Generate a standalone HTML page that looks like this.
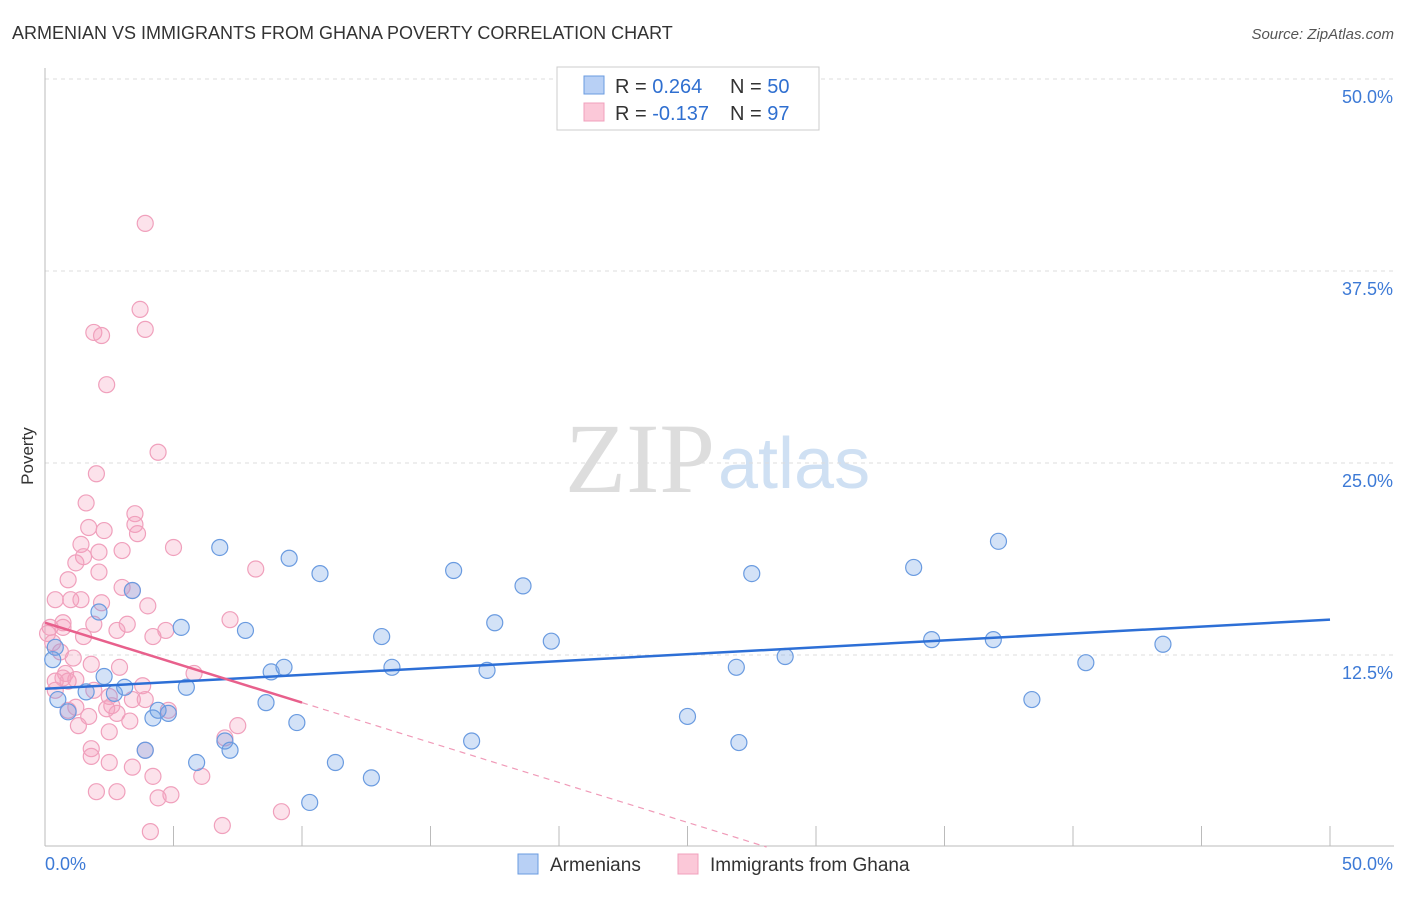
<!DOCTYPE html>
<html><head><meta charset="utf-8"><style>
body{margin:0;background:#fff;font-family:"Liberation Sans",sans-serif;}
svg text{font-family:"Liberation Sans",sans-serif;}
</style></head><body>
<svg id="chart" width="1406" height="892" xmlns="http://www.w3.org/2000/svg">
<text x="12" y="39" font-size="18" fill="#333">ARMENIAN VS IMMIGRANTS FROM GHANA POVERTY CORRELATION CHART</text>
<text x="1394" y="39" font-size="15" fill="#555" font-style="italic" text-anchor="end">Source: ZipAtlas.com</text>
<text x="715" y="492" font-size="100" fill="#ddd" text-anchor="end" style="font-family:'Liberation Serif',serif">ZIP</text>
<text x="718" y="488" font-size="72" fill="#cfe0f3">atlas</text>
<text x="33" y="456" font-size="17" fill="#333" text-anchor="middle" transform="rotate(-90 33 456)">Poverty</text>
<g id="grid"></g><g id="pts"></g><g id="lines"></g>
<g>
<rect x="557" y="67" width="262" height="63" fill="#fff" stroke="#ccc"/>
<rect x="584" y="76" width="20" height="18" fill="#b8d0f5" stroke="#6a9be0"/>
<rect x="584" y="103" width="20" height="18" fill="#fbc8d8" stroke="#f0a0bc"/>
<text x="615" y="93" font-size="20" fill="#333">R = <tspan fill="#2f6fd0"> 0.264</tspan><tspan x="730">N = </tspan><tspan fill="#2f6fd0">50</tspan></text>
<text x="615" y="120" font-size="20" fill="#333">R = <tspan fill="#2f6fd0">-0.137</tspan><tspan x="730">N = </tspan><tspan fill="#2f6fd0">97</tspan></text>
</g>
<g>
<rect x="518" y="854" width="20" height="20" fill="#b8d0f5" stroke="#6a9be0"/>
<text x="550" y="871" font-size="19" fill="#333">Armenians</text>
<rect x="678" y="854" width="20" height="20" fill="#fbc8d8" stroke="#f0a0bc"/>
<text x="710" y="871" font-size="19" fill="#333">Immigrants from Ghana</text>
</g>
</svg>
<script>
const yTicks=[12.5,25,37.5,50];
const xTickLabels=["0.0%","50.0%"];
const blueX=[0.5,0.9,0.4,0.3,1.6,2.1,2.3,2.7,3.1,3.4,3.9,4.2,4.4,4.8,5.3,5.5,5.9,6.8,7.0,7.2,7.8,8.6,8.8,9.3,9.5,9.8,10.7,11.3,12.7,13.1,13.5,15.9,16.6,17.2,17.5,18.6,19.7,25.0,26.9,27.0,27.5,28.8,33.8,34.5,36.9,37.1,38.4,40.5,43.5,10.3];
const blueY=[9.6,8.8,13.0,12.2,10.1,15.3,11.1,10.0,10.4,16.7,6.3,8.4,8.9,8.7,14.3,10.4,5.5,19.5,6.9,6.3,14.1,9.4,11.4,11.7,18.8,8.1,17.8,5.5,4.5,13.7,11.7,18.0,6.9,11.5,14.6,17.0,13.4,8.5,11.7,6.8,17.8,12.4,18.2,13.5,13.5,19.9,9.6,12.0,13.2,2.9];
const pinkX=[3.9,3.7,3.9,1.9,2.2,2.4,4.4,2.0,1.6,3.5,3.5,1.7,2.3,3.6,1.4,5.0,3.0,2.1,1.5,1.2,8.2,2.1,0.9,3.0,3.4,0.4,1.0,1.4,2.2,4.0,7.2,1.9,0.7,3.2,0.2,0.7,2.8,4.7,4.2,1.5,0.1,0.3,0.6,1.1,1.8,2.9,5.8,0.8,1.2,0.7,0.4,0.9,3.8,1.9,2.5,3.4,3.9,4.8,2.6,2.8,1.2,1.7,0.9,3.3,7.5,1.3,2.5,7.0,1.8,3.9,1.8,2.5,3.4,6.1,4.2,2.0,2.8,4.9,4.4,9.2,6.9,4.1,2.4,0.4];
const pinkY=[40.6,35.0,33.7,33.5,33.3,30.1,25.7,24.3,22.4,21.7,21.0,20.8,20.6,20.4,19.7,19.5,19.3,19.2,18.9,18.5,18.1,17.9,17.4,16.9,16.7,16.1,16.1,16.1,15.9,15.7,14.8,14.5,14.6,14.5,14.3,14.3,14.1,14.1,13.7,13.7,13.9,13.3,12.7,12.3,11.9,11.7,11.3,11.3,10.9,11.0,10.8,10.8,10.5,10.2,9.8,9.6,9.6,8.9,9.2,8.7,9.1,8.5,8.9,8.2,7.9,7.9,7.5,7.1,6.4,6.3,5.9,5.5,5.2,4.6,4.6,3.6,3.6,3.4,3.2,2.3,1.4,1.0,9.0,10.2];
const blueTrend=[10.3,14.8];
const pinkTrend=[14.6,-0.52];
const NS="http://www.w3.org/2000/svg";
const X=v=>45+v*25.7, Y=v=>847-v*15.36;
function mk(t,a,p){const e=document.createElementNS(NS,t);for(const k in a)e.setAttribute(k,a[k]);p.appendChild(e);return e;}
const grid=document.getElementById('grid');
yTicks.forEach(t=>{
 const l=mk('line',{x1:45,x2:1394,y1:Y(t),y2:Y(t),stroke:'#ddd','stroke-dasharray':'4,4'},grid);
 
 
 const tx=mk('text',{x:1393,y:Y(t)+24,'font-size':18,fill:'#3d7ad6','text-anchor':'end'},grid);
 tx.textContent=t.toFixed(1)+'%';
 
 
});
const ax=mk('line',{x1:45,x2:45,y1:68,y2:846,stroke:'#bbb'},grid);


const bx=mk('line',{x1:45,x2:1394,y1:846,y2:846,stroke:'#bbb'},grid);


for(let i=0;i<=10;i++){const t=mk('line',{x1:X(i*5),x2:X(i*5),y1:826,y2:846,stroke:'#bbb'},grid);
 
 }
[[0,'start',45],[50,'end',1393]].forEach((d,i)=>{const t=mk('text',{x:d[2],y:870,'font-size':18,fill:'#3d7ad6','text-anchor':d[1]},grid);t.textContent=xTickLabels[i];
 
 });
const pts=document.getElementById('pts');
pinkX.forEach((x,i)=>{const c=mk('circle',{cx:X(x),cy:Y(pinkY[i]),r:8,fill:'rgba(244,160,190,0.3)',stroke:'#f0a0bc','stroke-width':1.2},pts);
 
 });
blueX.forEach((x,i)=>{const c=mk('circle',{cx:X(x),cy:Y(blueY[i]),r:8,fill:'rgba(110,160,230,0.3)',stroke:'#6a9be0','stroke-width':1.2},pts);
 
 });
const ln=document.getElementById('lines');
const b=mk('line',{x1:X(0),y1:Y(blueTrend[0]),x2:X(50),y2:Y(blueTrend[1]),stroke:'#2d6fd6','stroke-width':2.5},ln);


const pz=-pinkTrend[0]/pinkTrend[1];
const pd=mk('line',{x1:X(10),y1:Y(pinkTrend[0]+pinkTrend[1]*10),x2:X(pz),y2:Y(0),stroke:'#f09ab8','stroke-width':1.2,'stroke-dasharray':'6,5'},ln);


const p=mk('line',{x1:X(0),y1:Y(pinkTrend[0]),x2:X(10),y2:Y(pinkTrend[0]+pinkTrend[1]*10),stroke:'#e8608c','stroke-width':2.5},ln);


</script>
</body></html>
